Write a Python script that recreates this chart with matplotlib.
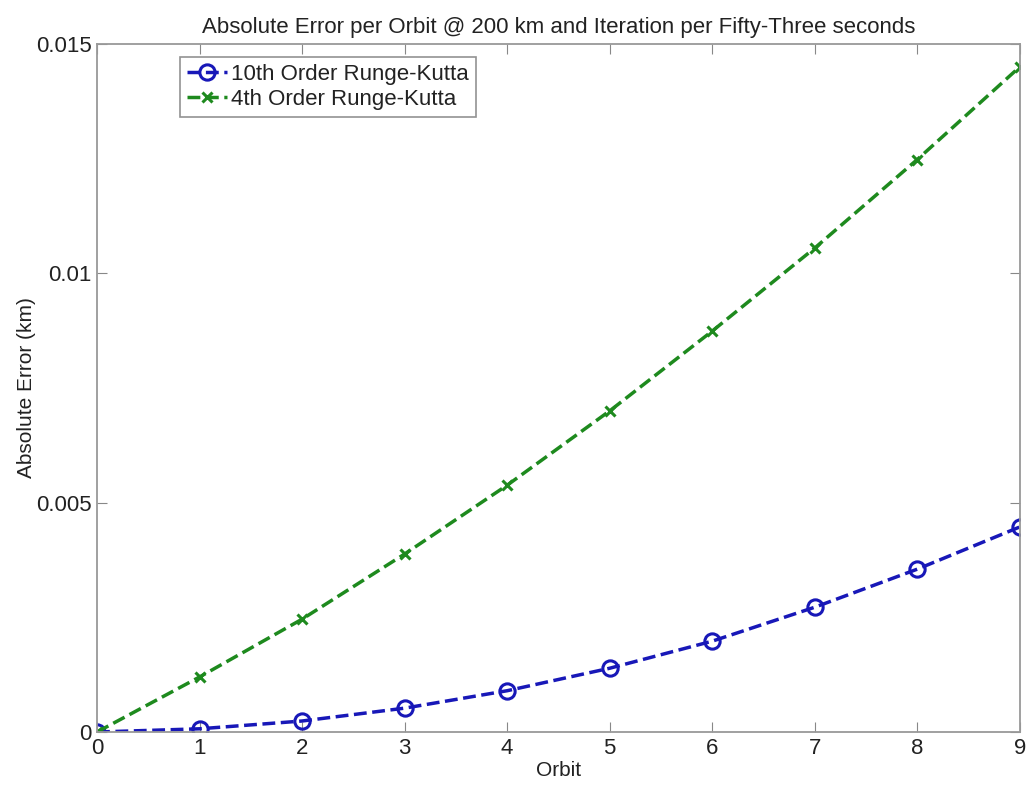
import matplotlib.pyplot as plt
import numpy as np

plt.rcParams['font.family'] = ['Liberation Sans', 'DejaVu Sans']

orbit = [0, 1, 2, 3, 4, 5, 6, 7, 8, 9]
err_rk10 = [0.0, 0.00007, 0.00024, 0.00052, 0.00090, 0.00139, 0.00198, 0.00272, 0.00355, 0.00447]
err_rk4 = [0.0, 0.00120, 0.00246, 0.00388, 0.00538, 0.00700, 0.00874, 0.01055, 0.01248, 0.01450]

fig = plt.figure(figsize=(10.29, 7.85), dpi=100)
ax = fig.add_axes([0.0943, 0.0675, 0.8967, 0.8765])

ax.plot(orbit, err_rk10, '--o', color='#1818b8', linewidth=2.5, markersize=11,
        markerfacecolor='none', markeredgewidth=2.2, label='10th Order Runge-Kutta')
ax.plot(orbit, err_rk4, '--x', color='#1e8a1e', linewidth=2.5, markersize=7,
        markeredgewidth=2.2, label='4th Order Runge-Kutta')

ax.set_xlim(0, 9)
ax.set_ylim(0, 0.015)
ax.set_xticks(orbit)
ax.set_yticks([0, 0.005, 0.01, 0.015])
ax.set_yticklabels(['0', '0.005', '0.01', '0.015'])
ax.tick_params(direction='in', top=True, right=True, labelsize=16, length=7,
               color='#888888', labelcolor='#222222', pad=4)
for s in ax.spines.values():
    s.set_color('#999999')
    s.set_linewidth(1.3)

ax.set_xlabel('Orbit', fontsize=15, labelpad=2, color='#222222')
ax.set_ylabel('Absolute Error (km)', fontsize=15, labelpad=0, color='#222222')
ax.set_title('Absolute Error per Orbit @ 200 km and Iteration per Fifty-Three seconds',
             fontsize=16, pad=8, color='#222222')

leg = ax.legend(loc='upper left', bbox_to_anchor=(0.09, 0.981), fontsize=16, fancybox=False,
                handlelength=1.8, handletextpad=0.2, borderpad=0.3, labelspacing=0.2,
                borderaxespad=0)
leg.get_frame().set_edgecolor('#777777')
leg.get_frame().set_linewidth(1.2)
for t in leg.get_texts():
    t.set_color('#222222')

fig.savefig('out.png', dpi=100)
